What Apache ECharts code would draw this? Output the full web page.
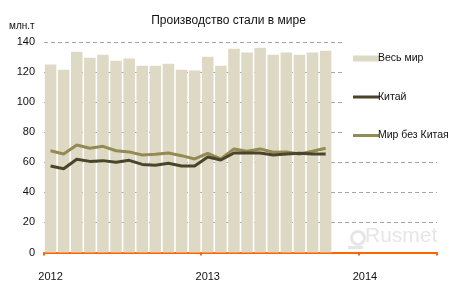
<!DOCTYPE html>
<html>
<head>
<meta charset="utf-8">
<script src="https://cdn.jsdelivr.net/npm/echarts@6/dist/echarts.min.js"></script>
<style>html,body{margin:0;padding:0;background:#fff}#c{width:457px;height:293px}</style>
</head>
<body>
<div id="c"></div>
<script>
// Months Jan 2012 .. Jun 2014
const categories = [];
for (let y = 2012; y <= 2014; y++) {
  for (let m = 1; m <= 12; m++) {
    if (y === 2014 && m > 6) break;
    categories.push(y + '-' + (m < 10 ? '0' + m : m));
  }
}
const yearLabels = {0: '2012', 12: '2013', 24: '2014'};
const worldTotal = [125, 121.5, 133.5, 129.5, 131.5, 127.5, 129, 124.2, 124.2, 125.5, 121.5, 121,
                    130.2, 124.2, 135.5, 133, 136.2, 131.5, 133, 131.5, 133, 134.2];
const china      = [57.5, 55.7, 62, 60.6, 61.1, 60, 61.3, 58.6, 58, 59.3, 57.5, 57.5,
                    63.5, 61.5, 66.2, 66.2, 66.2, 64.9, 65.5, 66, 65.5, 65.5];
const worldExChina = [67.7, 65.5, 71.5, 69.3, 70.6, 67.7, 66.9, 64.9, 65.3, 66.2, 64.4, 62.2,
                      66, 62.3, 68.9, 67.3, 68.9, 66.7, 66.9, 65.5, 67.3, 69.3];
const yTicks = [0, 20, 40, 60, 80, 100, 120, 140];

const font = 'Liberation Sans';
const lineIcon = 'path://M0,0H26V3H0Z';
const chart = echarts.init(document.getElementById('c'), null, {renderer: 'canvas'});
chart.setOption({
  animation: false,
  backgroundColor: '#fff',
  textStyle: {fontFamily: font},
  title: {
    text: 'Производство стали в мире',
    left: 'center', top: 10,
    textStyle: {fontFamily: font, fontSize: 12, fontWeight: 'normal', color: '#111'}
  },
  grid: {left: 44, right: 20, top: 42, bottom: 40.5},
  xAxis: {
    type: 'category',
    data: categories,
    boundaryGap: true,
    axisLine: {lineStyle: {color: '#FF6600', width: 2}},
    axisTick: {show: true, length: 3, lineStyle: {color: '#FF6600', width: 2},
               interval: (i) => i % 12 === 0},
    axisLabel: {
      interval: (i) => i % 12 === 0,
      formatter: (v, i) => yearLabels[i] || '',
      color: '#111', fontSize: 11, fontFamily: font, margin: 19
    },
    splitLine: {show: false}
  },
  yAxis: {
    type: 'value',
    min: 0, max: yTicks[yTicks.length - 1], interval: 20,
    axisLine: {show: false},
    axisTick: {show: false},
    axisLabel: {color: '#111', fontSize: 11, fontFamily: font, margin: 9},
    splitLine: {lineStyle: {color: '#A6A6A6', type: [4, 3], width: 1}}
  },
  legend: {
    orient: 'vertical',
    left: 348, top: 48,
    itemWidth: 26, itemHeight: 6,
    itemGap: 27.5,
    textStyle: {fontFamily: font, fontSize: 10.5, color: '#111', padding: [0, 0, 0, -6]},
    data: [{name: 'Весь мир', icon: 'rect'},
           {name: 'Китай', icon: lineIcon},
           {name: 'Мир без Китая', icon: lineIcon}]
  },
  graphic: [
    {type: 'rect', left: 344, top: 38, z: 1, shape: {width: 113, height: 108}, style: {fill: '#fff'}},
    {type: 'text', x: 9, y: 26, style: {text: 'млн.т', font: '10px ' + font, fill: '#111', verticalAlign: 'middle', textVerticalAlign: 'middle'}},
    {type: 'circle', left: 349, top: 229, z: 1, shape: {r: 6.5}, style: {fill: 'none', stroke: '#E6E6E6', lineWidth: 3}},
    {type: 'rect', left: 348, top: 246, z: 1, shape: {width: 15, height: 3}, style: {fill: '#E6E6E6'}},
    {type: 'text', left: 365, top: 226, z: 1, style: {text: 'Rusmet', font: '21px ' + font, fill: '#E6E6E6'}}
  ],
  series: [
    {name: 'Весь мир', type: 'bar', data: worldTotal, barCategoryGap: '12%',
     itemStyle: {color: '#DDD9C4'}},
    {name: 'Китай', type: 'line', data: china, symbol: 'none', z: 4,
     lineStyle: {color: '#4A452A', width: 3}, itemStyle: {color: '#4A452A'}},
    {name: 'Мир без Китая', type: 'line', data: worldExChina, symbol: 'none', z: 3,
     lineStyle: {color: '#948A54', width: 3}, itemStyle: {color: '#948A54'}}
  ]
});
</script>
</body>
</html>
